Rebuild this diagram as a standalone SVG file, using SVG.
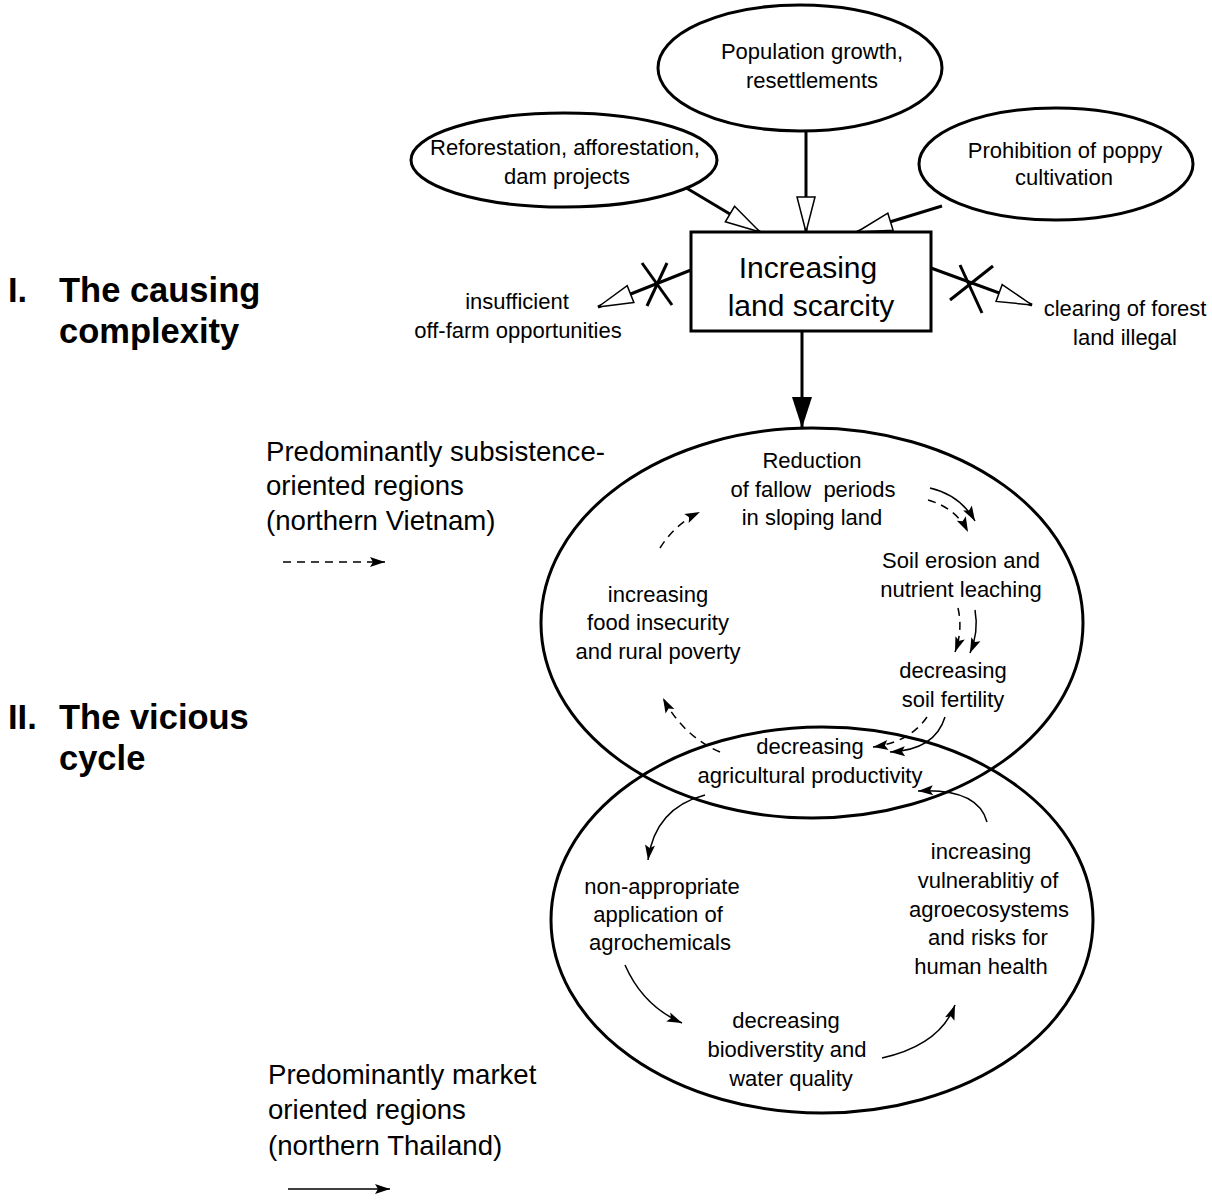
<svg xmlns="http://www.w3.org/2000/svg" width="1212" height="1202" viewBox="0 0 1212 1202">
<style>
  text { font-family: "Liberation Sans", Arial, sans-serif; fill: #000; }
  .t { font-size: 22px; text-anchor: middle; }
  .box { font-size: 30px; text-anchor: middle; }
  .lbl { font-size: 27.6px; }
  .title { font-size: 34.5px; font-weight: bold; }
  .shape { fill: #fff; stroke: #000; stroke-width: 3; }
  .ring { fill: none; stroke: #000; stroke-width: 3; }
  .thick { fill: none; stroke: #000; stroke-width: 3; }
  .thin { fill: none; stroke: #000; stroke-width: 1.5; }
  .dash { stroke-dasharray: 8 6; }
</style>
<defs>
  <marker id="hollow" markerUnits="userSpaceOnUse" markerWidth="40" markerHeight="22" refX="36" refY="10" orient="auto" overflow="visible">
    <path d="M1,1 L36,10 L1,19 z" fill="#fff" stroke="#000" stroke-width="1.5"/>
  </marker>
  <marker id="big" markerUnits="userSpaceOnUse" markerWidth="32" markerHeight="22" refX="31" refY="10" orient="auto" overflow="visible">
    <path d="M0,0 L31,10 L0,20 z" fill="#000"/>
  </marker>
  <marker id="small" markerUnits="userSpaceOnUse" markerWidth="16" markerHeight="12" refX="15" refY="5" orient="auto" overflow="visible">
    <path d="M0,0 L15,5 L0,10 L3,5 z" fill="#000"/>
  </marker>
</defs>
<rect width="1212" height="1202" fill="#fff"/>

<g id="titles">
  <text class="title" x="8" y="302">I.</text>
  <text class="title" x="59" y="302">The causing</text>
  <text class="title" x="59" y="343">complexity</text>
  <text class="title" x="8" y="729">II.</text>
  <text class="title" x="59" y="729">The vicious</text>
  <text class="title" x="59" y="770">cycle</text>
</g>

<g id="legend-vietnam">
  <text class="lbl" x="266" y="461">Predominantly subsistence-</text>
  <text class="lbl" x="266" y="495">oriented regions</text>
  <text class="lbl" x="266" y="530">(northern Vietnam)</text>
</g>
<g id="legend-thailand">
  <text class="lbl" x="268" y="1084">Predominantly market</text>
  <text class="lbl" x="268" y="1119">oriented regions</text>
  <text class="lbl" x="268" y="1155">(northern Thailand)</text>
</g>

<g id="cycle-upper">
  <ellipse class="ring" cx="812" cy="623" rx="271" ry="195"/>
</g>
<g id="cycle-lower">
  <ellipse class="ring" cx="822" cy="920" rx="271" ry="193"/>
</g>

<g id="connectors">
  <line class="thick" x1="806" y1="131" x2="806" y2="232" marker-end="url(#hollow)"/>
  <line class="thick" x1="673" y1="180" x2="760" y2="232" marker-end="url(#hollow)"/>
  <line class="thick" x1="942" y1="206" x2="857" y2="232" marker-end="url(#hollow)"/>
  <line class="thick" x1="691" y1="270" x2="598" y2="307" marker-end="url(#hollow)"/>
  <line class="thick" x1="931" y1="268" x2="1032" y2="305" marker-end="url(#hollow)"/>
  <line class="thick" x1="642" y1="263" x2="672" y2="305"/>
  <line class="thick" x1="667" y1="263" x2="647" y2="306"/>
  <line class="thick" x1="950" y1="300" x2="993" y2="266"/>
  <line class="thick" x1="960" y1="265" x2="982" y2="313"/>
  <line class="thick" x1="802" y1="331" x2="802" y2="428" marker-end="url(#big)"/>

  <path class="thin" d="M930,488 Q960,495 975,521" marker-end="url(#small)"/>
  <path class="thin dash" d="M928,500 Q956,508 968,532" marker-end="url(#small)"/>
  <path class="thin dash" d="M958,608 Q963,630 955,652" marker-end="url(#small)"/>
  <path class="thin" d="M975,610 Q979,632 970,653" marker-end="url(#small)"/>
  <path class="thin dash" d="M927,717 Q910,742 873,747" marker-end="url(#small)"/>
  <path class="thin" d="M945,717 Q935,750 890,752" marker-end="url(#small)"/>
  <path class="thin dash" d="M660,548 Q675,524 700,512" marker-end="url(#small)"/>
  <path class="thin dash" d="M720,752 Q683,736 663,698" marker-end="url(#small)"/>

  <path class="thin" d="M705,795 Q655,808 648,860" marker-end="url(#small)"/>
  <path class="thin" d="M625,965 Q643,1006 682,1023" marker-end="url(#small)"/>
  <path class="thin" d="M882,1058 Q940,1045 955,1005" marker-end="url(#small)"/>
  <path class="thin" d="M987,822 Q978,788 918,791" marker-end="url(#small)"/>

  <line class="thin dash" x1="283" y1="562" x2="385" y2="562" marker-end="url(#small)"/>
  <line class="thin" x1="288" y1="1189" x2="390" y2="1189" marker-end="url(#small)"/>
</g>

<g id="node-population">
  <ellipse class="shape" cx="800" cy="68" rx="142" ry="63"/>
  <text class="t" x="812" y="59">Population growth,</text>
  <text class="t" x="812" y="88">resettlements</text>
</g>
<g id="node-reforestation">
  <ellipse class="shape" cx="564" cy="160" rx="153" ry="47"/>
  <text class="t" x="565" y="155">Reforestation, afforestation,</text>
  <text class="t" x="567" y="184">dam projects</text>
</g>
<g id="node-poppy">
  <ellipse class="shape" cx="1056" cy="164" rx="137" ry="56"/>
  <text class="t" x="1065" y="158">Prohibition of poppy</text>
  <text class="t" x="1064" y="185">cultivation</text>
</g>
<g id="node-scarcity">
  <rect class="shape" x="691" y="232" width="240" height="99"/>
  <text class="box" x="808" y="278">Increasing</text>
  <text class="box" x="811" y="316">land scarcity</text>
</g>
<g id="node-offfarm">
  <text class="t" x="517" y="309">insufficient</text>
  <text class="t" x="518" y="338">off-farm opportunities</text>
</g>
<g id="node-forest">
  <text class="t" x="1125" y="316">clearing of forest</text>
  <text class="t" x="1125" y="345">land illegal</text>
</g>
<g id="node-fallow">
  <text class="t" x="812" y="468">Reduction</text>
  <text class="t" x="813" y="497" style="white-space:pre" xml:space="preserve">of fallow  periods</text>
  <text class="t" x="812" y="525">in sloping land</text>
</g>
<g id="node-erosion">
  <text class="t" x="961" y="568">Soil erosion and</text>
  <text class="t" x="961" y="597">nutrient leaching</text>
</g>
<g id="node-food">
  <text class="t" x="658" y="602">increasing</text>
  <text class="t" x="658" y="630">food insecurity</text>
  <text class="t" x="658" y="659">and rural poverty</text>
</g>
<g id="node-fertility">
  <text class="t" x="953" y="678">decreasing</text>
  <text class="t" x="953" y="707">soil fertility</text>
</g>
<g id="node-productivity">
  <text class="t" x="810" y="754">decreasing</text>
  <text class="t" x="810" y="783">agricultural productivity</text>
</g>
<g id="node-agrochemicals">
  <text class="t" x="662" y="894">non-appropriate</text>
  <text class="t" x="658" y="922">application of</text>
  <text class="t" x="660" y="950">agrochemicals</text>
</g>
<g id="node-vulnerability">
  <text class="t" x="981" y="859">increasing</text>
  <text class="t" x="988" y="888">vulnerablitiy of</text>
  <text class="t" x="989" y="917">agroecosystems</text>
  <text class="t" x="988" y="945">and risks for</text>
  <text class="t" x="981" y="974">human health</text>
</g>
<g id="node-biodiversity">
  <text class="t" x="786" y="1028">decreasing</text>
  <text class="t" x="787" y="1057">biodiverstity and</text>
  <text class="t" x="791" y="1086">water quality</text>
</g>
</svg>
